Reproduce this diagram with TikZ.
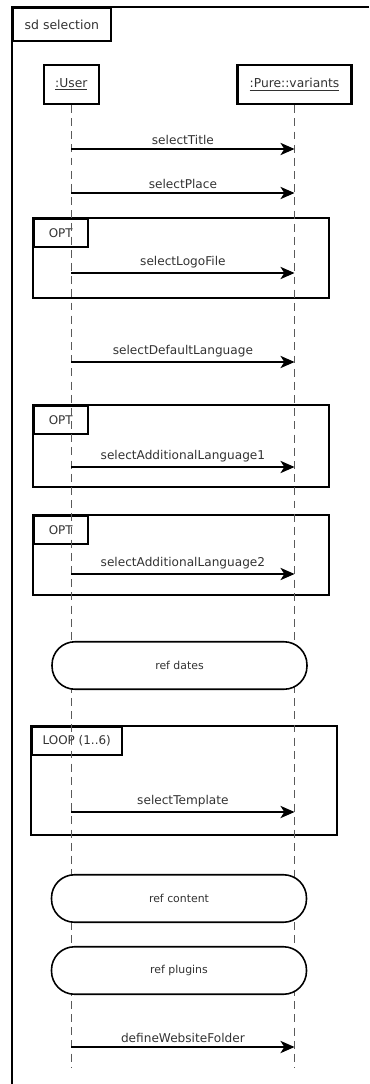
\documentclass[tikz,border=0pt]{standalone}
\usepackage{fontspec}
\setmainfont{DejaVu Sans}
\usetikzlibrary{arrows.meta, positioning, calc}
\definecolor{inkgray}{RGB}{50, 50, 50}
\definecolor{lifegray}{RGB}{90, 90, 90}

\begin{document}
\begin{tikzpicture}[
  x=0.02cm, y=-0.02cm,
  every node/.style={text=inkgray},
  frametab/.style={rectangle, draw, line width=1pt, anchor=north west,
              minimum width=1.96cm, minimum height=0.66cm, font=\fontsize{7.1}{8.5}\selectfont},
  actor/.style={rectangle, draw, line width=1pt, minimum height=0.78cm,
              font=\fontsize{7}{8.5}\selectfont},
  fragbox/.style={draw, line width=0.9pt},
  fragtab/.style={rectangle, draw, line width=0.9pt, anchor=north west,
              minimum height=0.56cm, font=\fontsize{6.8}{8}\selectfont},
  refbox/.style={rectangle, draw, line width=0.9pt, fill=white, rounded corners=0.46cm,
              minimum width=5.1cm, minimum height=0.95cm, font=\fontsize{6.2}{7.5}\selectfont},
  life/.style={lifegray, line width=0.6pt, dash pattern=on 4.5pt off 3pt},
  msg/.style={-{Stealth[length=8pt, width=7pt, inset=2.2pt]}, line width=0.85pt, black},
  lbl/.style={font=\fontsize{6.9}{8.5}\selectfont, above, inner sep=2.3pt}
]
  \useasboundingbox (0,0) rectangle (369,1084);

  % outer frame
  \draw[line width=1.1pt] (369,7) -- (12,7) -- (12,1084);
  \node[frametab] (sd) at (12,7) {sd selection};

  % lifeline heads
  \node[actor, minimum width=1.1cm] (user) at (71.3,84.5) {\underline{:User}};
  \node[actor, minimum width=2.28cm, line width=1.4pt] (pv) at (294.5,84.5) {\underline{:Pure::variants}};

  % combined fragments
  \draw[fragbox] (33,218) rectangle (329,298);
  \node[fragtab, minimum width=1.08cm] (opta) at (33,218) {OPT};
  \draw[fragbox] (33,405) rectangle (329,487);
  \node[fragtab, minimum width=1.08cm] (optb) at (33,405) {OPT};
  \draw[fragbox] (33,515) rectangle (329,595);
  \node[fragtab, minimum width=1.08cm] (optc) at (33,515) {OPT};
  \draw[fragbox] (31,726) rectangle (337,835);
  \node[fragtab, minimum width=1.8cm] (loop) at (31,726) {LOOP (1..6)};

  % lifelines
  \coordinate (userend) at (user.south |- 0,1068);
  \coordinate (pvend) at (pv.south |- 0,1068);
  \draw[life] (user.south) -- (userend);
  \draw[life] (pv.south) -- (pvend);

  % interaction uses
  \node[refbox] (dates) at (179.5,665.5) {ref dates};
  \node[refbox] (content) at (179,898.5) {ref content};
  \node[refbox] (plugins) at (179,970.5) {ref plugins};

  % message ends
  \coordinate (u1) at (user.south |- 0,149);  \coordinate (p1) at (pv.south |- 0,149);
  \coordinate (u2) at (user.south |- 0,193);  \coordinate (p2) at (pv.south |- 0,193);
  \coordinate (u3) at (user.south |- 0,273);  \coordinate (p3) at (pv.south |- 0,273);
  \coordinate (u4) at (user.south |- 0,362);  \coordinate (p4) at (pv.south |- 0,362);
  \coordinate (u5) at (user.south |- 0,467);  \coordinate (p5) at (pv.south |- 0,467);
  \coordinate (u6) at (user.south |- 0,574);  \coordinate (p6) at (pv.south |- 0,574);
  \coordinate (u7) at (user.south |- 0,812);  \coordinate (p7) at (pv.south |- 0,812);
  \coordinate (u8) at (user.south |- 0,1047); \coordinate (p8) at (pv.south |- 0,1047);

  % messages
  \draw[msg] (u1) -- node[lbl] {selectTitle} (p1);
  \draw[msg] (u2) -- node[lbl] {selectPlace} (p2);
  \draw[msg] (u3) -- node[lbl] {selectLogoFile} (p3);
  \draw[msg] (u4) -- node[lbl] {selectDefaultLanguage} (p4);
  \draw[msg] (u5) -- node[lbl] {selectAdditionalLanguage1} (p5);
  \draw[msg] (u6) -- node[lbl] {selectAdditionalLanguage2} (p6);
  \draw[msg] (u7) -- node[lbl] {selectTemplate} (p7);
  \draw[msg] (u8) -- node[lbl] {defineWebsiteFolder} (p8);
\end{tikzpicture}
\end{document}
